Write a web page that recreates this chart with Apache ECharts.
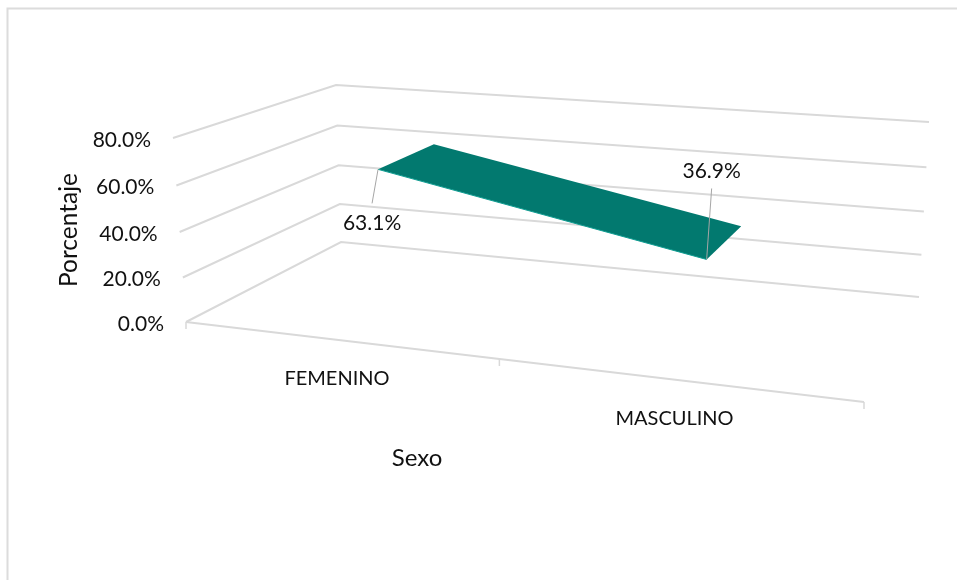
<!DOCTYPE html>
<html><head><meta charset="utf-8">
<style>html,body{margin:0;padding:0;background:#fff}#c{width:957px;height:580px}</style>
<script src="https://cdn.jsdelivr.net/npm/echarts@6/dist/echarts.min.js"></script>
</head><body><div id="c"></div>
<script>
const categories=['FEMENINO','MASCULINO'];
const percentages=[63.1,36.9];
const valueTicks=[0,20,40,60,80];
const yAxisName='Porcentaje';
const xAxisName='Sexo';

function quad(p0,p1,p2,p3){
  const dx1=p1[0]-p2[0],dx2=p3[0]-p2[0],sx=p0[0]-p1[0]+p2[0]-p3[0];
  const dy1=p1[1]-p2[1],dy2=p3[1]-p2[1],sy=p0[1]-p1[1]+p2[1]-p3[1];
  const den=dx1*dy2-dx2*dy1,g=(sx*dy2-dx2*sy)/den,h=(dx1*sy-sx*dy1)/den;
  const a=p1[0]-p0[0]+g*p1[0],b=p3[0]-p0[0]+h*p3[0],c=p0[0];
  const d=p1[1]-p0[1]+g*p1[1],e=p3[1]-p0[1]+h*p3[1],f=p0[1];
  return (u,v)=>{const w=g*u+h*v+1;return [(a*u+b*v+c)/w,(d*u+e*v+f)/w];};
}
const floorH=quad([186,322],[864,402],[919,297],[341,242]);
const ceilH=quad([173,138],[874,197],[929,122],[336,85]);
function project(u,d,t){const a=floorH(u,d),b=ceilH(u,d),w=t/(t+(1-t)*1.045);return [a[0]+(b[0]-a[0])*w,a[1]+(b[1]-a[1])*w];}

const DEPTH_FRONT=0.316,DEPTH_BACK=0.715,U_SHIFT=0.004;
const FONT='Lato';
function norm(api,params,c,v){const s=params.coordSys,p=api.coord([c,v]);return [(p[0]-s.x)/s.width,1-(p[1]-s.y)/s.height];}
const LINE={stroke:'#d9d9d9',lineWidth:2,fill:null};
const chart=echarts.init(document.getElementById('c'),null,{renderer:'canvas'});
chart.setOption({
 animation:false,backgroundColor:'#fff',
 grid:{left:100,right:100,top:100,bottom:100},
 xAxis:{type:'category',data:categories,show:false},
 yAxis:{type:'value',min:0,max:80,interval:20,show:false},
 graphic:[
 {type:'rect',silent:true,shape:{x:7.5,y:8.5,width:1200,height:800},style:{fill:null,stroke:'#dcdcdc',lineWidth:2},z:-1},
 {type:'text',silent:true,x:69,y:230,rotation:Math.PI/2,style:{text:yAxisName,textAlign:'center',textVerticalAlign:'middle',font:'24.5px '+FONT,fill:'#111'}},
 {type:'text',silent:true,x:417,y:458,style:{text:xAxisName,textAlign:'center',textVerticalAlign:'middle',font:'24px '+FONT,fill:'#111'}}
 ],
 series:[
 {type:'custom',coordinateSystem:'cartesian2d',silent:true,z:1,data:valueTicks.map(v=>[0,v]),
  renderItem(params,api){const t=norm(api,params,0,api.value(1))[1];
   const pts=[project(0,0,t),project(0,1,t),project(1,1,t)];
   const lab=project(0,0,t);
   return {type:'group',children:[
    {type:'polyline',shape:{points:pts},style:LINE},
    {type:'text',style:{x:lab[0]-22,y:lab[1]+2,text:api.value(1).toFixed(1)+'%',textAlign:'right',textVerticalAlign:'middle',font:'21px '+FONT,fill:'#111'}}]};}},
 {type:'custom',coordinateSystem:'cartesian2d',silent:true,z:1,data:[[0,0]],
  renderItem(params,api){const ch=[{type:'polyline',shape:{points:[project(0,0,0),project(1,0,0)]},style:LINE}];
   [0,0.5,1].forEach(u=>{const p=project(u,0,0);ch.push({type:'line',shape:{x1:p[0],y1:p[1],x2:p[0],y2:p[1]+7},style:{stroke:'#d9d9d9',lineWidth:1.5}});});
   return {type:'group',children:ch};}},
 {type:'custom',coordinateSystem:'cartesian2d',silent:true,z:1,data:categories.map((c,i)=>[i,0]),
  renderItem(params,api){const i=api.value(0),n=norm(api,params,i,0),p=project(n[0],0,0);
   return {type:'text',style:{x:p[0],y:p[1]+39,text:categories[i],textAlign:'center',textVerticalAlign:'middle',font:'20px '+FONT,fill:'#111'}};}},
 {type:'custom',coordinateSystem:'cartesian2d',silent:true,z:3,data:percentages.slice(0,-1).map((v,i)=>[i,v,i+1,percentages[i+1]]),
  renderItem(params,api){const a=norm(api,params,api.value(0),api.value(1)),b=norm(api,params,api.value(2),api.value(3));
   const f1=project(a[0]+U_SHIFT,DEPTH_FRONT,a[1]),f2=project(b[0]+U_SHIFT,DEPTH_FRONT,b[1]),b1=project(a[0]+U_SHIFT,DEPTH_BACK,a[1]),b2=project(b[0]+U_SHIFT,DEPTH_BACK,b[1]);
   return {type:'group',children:[
    {type:'polygon',shape:{points:[f1,f2,b2,b1]},style:{fill:'#02796f'}},
    {type:'line',shape:{x1:f1[0],y1:f1[1],x2:f2[0],y2:f2[1]},style:{stroke:'#0f9d92',lineWidth:1}}]};}},
 {type:'custom',coordinateSystem:'cartesian2d',silent:true,z:4,data:percentages.map((v,i)=>[i,v]),
  renderItem(params,api){const i=api.value(0),n=norm(api,params,i,api.value(1)),p=project(n[0]+U_SHIFT,DEPTH_FRONT,n[1]);
   const end=i===0?[-6,34]:[5,-71],lab=i===0?[-6,54]:[5,-88];
   return {type:'group',children:[
    {type:'line',shape:{x1:p[0],y1:p[1],x2:p[0]+end[0],y2:p[1]+end[1]},style:{stroke:'#a6a6a6',lineWidth:1}},
    {type:'text',style:{x:p[0]+lab[0],y:p[1]+lab[1],text:api.value(1).toFixed(1)+'%',textAlign:'center',textVerticalAlign:'middle',font:'21px '+FONT,fill:'#111'}}]};}}
 ]
});
</script></body></html>
